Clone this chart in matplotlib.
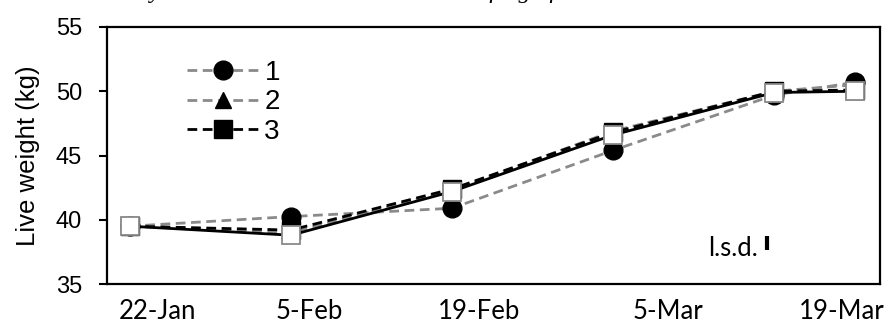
import matplotlib.pyplot as plt

# days after 22-Jan at which animals were weighed
days = [0, 14, 28, 42, 56, 63]
lw_1 = [39.5, 40.25, 40.9, 45.4, 49.7, 50.7]
lw_2 = [39.5, 39.0, 42.3, 46.9, 50.0, 50.5]
lw_3 = [39.5, 39.2, 42.4, 46.8, 50.0, 50.1]
lw_4 = [39.5, 38.8, 42.2, 46.6, 49.9, 50.0]
lsd = 1.1

date_labels = ['22-Jan', '5-Feb', '19-Feb', '5-Mar', '19-Mar']
label_pos = [2.4, 15.6, 30.3, 46.8, 61.9]

gray = '#8a8a8a'
fig = plt.figure(figsize=(8.88, 3.25), dpi=100)
ax = fig.add_axes([0.1205, 0.126, 0.8705, 0.791])

ax.plot(days, lw_1, color=gray, lw=2, dashes=(3.5, 2), marker='o', ms=13.5,
        mfc='black', mec='black', label='1')
ax.plot(days, lw_2, color=gray, lw=2, dashes=(3.5, 2), marker='^', ms=12,
        mfc='black', mec='black', label='2')
ax.plot(days, lw_3, color='black', lw=2, dashes=(3.5, 2), marker='s', ms=13,
        mfc='black', mec='black', label='3')
ax.plot(days, lw_4, color='black', lw=2, marker='s', ms=13,
        mfc='white', mec=gray, mew=1.3)

# l.s.d. bar
ax.plot([55.4, 55.4], [38.2 - lsd / 2, 38.2 + lsd / 2], color='black', lw=3,
        solid_capstyle='butt')
ax.text(54.6, 37.8, 'l.s.d.', ha='right', va='center', fontsize=18.5, family='Lato')

ax.set_xlim(-2, 65.2)
ax.set_ylim(35, 55)
ax.set_yticks(range(35, 56, 5))
ax.set_xticks(label_pos)
ax.set_xticklabels(date_labels, family='Lato', fontsize=18.5)
ax.tick_params(axis='x', length=0, pad=11)
ax.tick_params(axis='y', length=6, width=1.5, pad=12, labelsize=17)
for lbl in ax.get_yticklabels():
    lbl.set_family('Liberation Sans')
for s in ax.spines.values():
    s.set_linewidth(1.6)
ax.set_ylabel('Live weight (kg)', fontsize=18.5, family='Liberation Sans', labelpad=11)

leg = ax.legend(loc='upper left', bbox_to_anchor=(0.085, 0.925), frameon=False,
                prop={'family': 'Liberation Sans', 'size': 20}, handlelength=2.6,
                handletextpad=0.2, labelspacing=0.12, borderpad=0)

fig.text(0.0, 1.022, 'Data were analysed in Genstat v20 and the level of significance was set at P < 0.05',
         ha='left', va='center', style='italic', family='Liberation Serif', fontsize=17.5)

fig.savefig('out.png')
